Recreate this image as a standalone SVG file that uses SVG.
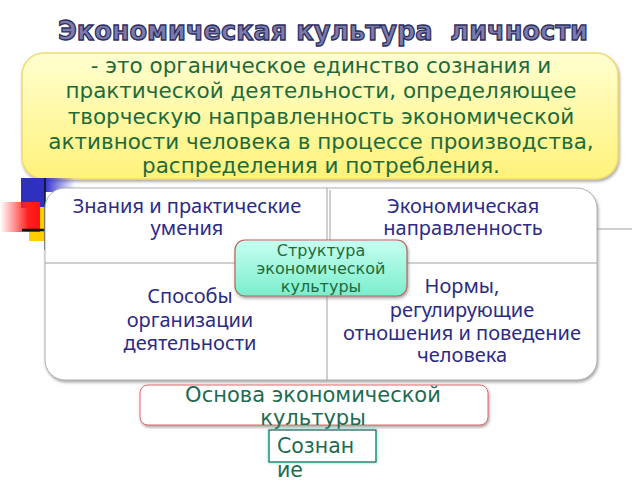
<svg xmlns="http://www.w3.org/2000/svg" width="640" height="480" viewBox="0 0 640 480">
<defs>
<linearGradient id="yel" x1="0" y1="0" x2="0" y2="1">
<stop offset="0" stop-color="#ffffd0"/><stop offset="1" stop-color="#fff27a"/>
</linearGradient>
<linearGradient id="mint" x1="0" y1="0" x2="0" y2="1">
<stop offset="0" stop-color="#c8fff0"/><stop offset="1" stop-color="#7aeecc"/>
</linearGradient>
<linearGradient id="red" x1="0" y1="0" x2="1" y2="0">
<stop offset="0" stop-color="#ff3030" stop-opacity="0"/><stop offset="0.7" stop-color="#ff2020"/><stop offset="1" stop-color="#ff1010"/>
</linearGradient>
<linearGradient id="blu" x1="0" y1="0" x2="1" y2="0">
<stop offset="0" stop-color="#3333cc"/><stop offset="1" stop-color="#3333cc" stop-opacity="0"/>
</linearGradient>
<filter id="sh" x="-5%" y="-5%" width="112%" height="115%">
<feDropShadow dx="1" dy="2" stdDeviation="1.5" flood-color="#808080" flood-opacity="0.7"/>
</filter>
<filter id="glow" x="-20%" y="-20%" width="140%" height="140%">
<feDropShadow dx="0" dy="0" stdDeviation="1.5" flood-color="#40e0c0" flood-opacity="1"/>
</filter>
</defs>
<style>
.title{font-family:"DejaVu Sans",sans-serif;font-weight:bold;font-size:26px;fill:#7b7bae;stroke:#2e2e5e;stroke-width:1.3;text-anchor:middle;white-space:pre}
.def{font-family:"DejaVu Sans",sans-serif;font-size:21.5px;fill:#1d6b3c;text-anchor:middle}
.cell{font-family:"Noto Sans",sans-serif;font-size:20px;fill:#2b2b85;text-anchor:middle}
.ctr{font-family:"DejaVu Sans",sans-serif;font-size:16px;fill:#1d6b3c;text-anchor:middle}
.base{font-family:"DejaVu Sans",sans-serif;font-size:21px;fill:#1d6b50;text-anchor:middle}
.line{stroke:#a0a0a0;stroke-width:1;fill:none}
</style>
<rect width="640" height="480" fill="#ffffff"/>
<g id="title"><text class="title" x="323" y="40" xml:space="preserve" textLength="530" lengthAdjust="spacingAndGlyphs">Экономическая культура  личности</text></g>
<g id="definition">
<rect x="22" y="53" width="596" height="126" rx="22" fill="url(#yel)" stroke="#f0dc70" stroke-width="1.5" filter="url(#sh)"/>
<text class="def" x="321" y="73">- это органическое единство сознания и</text>
<text class="def" x="321" y="98">практической деятельности, определяющее</text>
<text class="def" x="321" y="124">творческую направленность экономической</text>
<text class="def" x="321" y="149">активности человека в процессе производства,</text>
<text class="def" x="321" y="173">распределения и потребления.</text>
</g>
<g id="decor">
<rect x="21" y="178" width="24" height="30" fill="#3030c0"/>
<rect x="45" y="178" width="30" height="14" fill="url(#blu)"/>
<rect x="29" y="207" width="16" height="34" fill="#ffcc00"/>
<rect x="0" y="202" width="40" height="30" fill="url(#red)"/>
<line x1="22" y1="230" x2="45" y2="230" stroke="#101010" stroke-width="2.5"/>
<line x1="45" y1="178" x2="45" y2="250" stroke="#101010" stroke-width="1.5"/>
</g>
<g id="grid">
<rect x="45" y="188" width="552" height="192" rx="20" fill="#ffffff" stroke="#b0b0b0" stroke-width="1" filter="url(#sh)"/>
<line class="line" x1="597" y1="229" x2="632" y2="229" stroke="#e8e8e8"/>
</g>
<g id="connectors">
<line class="line" x1="45" y1="263" x2="597" y2="263"/>
<line class="line" x1="327" y1="188" x2="327" y2="380"/>
<line class="line" x1="330" y1="190" x2="330" y2="263" stroke="#c8c8c8"/>
</g>
<g id="knowledge"><text class="cell" x="187" y="213">Знания и практические</text><text class="cell" x="187" y="235">умения</text></g>
<g id="direction"><text class="cell" x="463" y="213">Экономическая</text><text class="cell" x="463" y="235">направленность</text></g>
<g id="methods"><text class="cell" x="190" y="303">Способы</text><text class="cell" x="190" y="327">организации</text><text class="cell" x="190" y="350">деятельности</text></g>
<g id="norms"><text class="cell" x="462" y="293">Нормы,</text><text class="cell" x="462" y="317">регулирующие</text><text class="cell" x="462" y="340">отношения и поведение</text><text class="cell" x="462" y="362">человека</text></g>
<g id="structure">
<rect x="235" y="240" width="172" height="56" rx="10" fill="url(#mint)" stroke="#c06060" stroke-width="1.2" filter="url(#sh)"/>
<text class="ctr" x="321" y="256">Структура</text>
<text class="ctr" x="321" y="274">экономической</text>
<text class="ctr" x="321" y="292">культуры</text>
</g>
<g id="basis">
<rect x="140" y="385" width="348" height="40" rx="8" fill="#ffffff" stroke="#e06868" stroke-width="1" filter="url(#sh)"/>
<text class="base" x="313" y="402">Основа экономической</text>
<text class="base" x="313" y="425">культуры</text>
</g>
<g id="consciousness">
<rect x="269" y="430" width="107" height="32" fill="#ffffff" stroke="#1d5a50" stroke-width="1.2" filter="url(#glow)"/>
<text class="base" x="277" y="453" style="text-anchor:start;font-size:20.5px">Сознан</text>
<text class="base" x="277" y="477" style="text-anchor:start;font-size:20.5px">ие</text>
</g>
</svg>
